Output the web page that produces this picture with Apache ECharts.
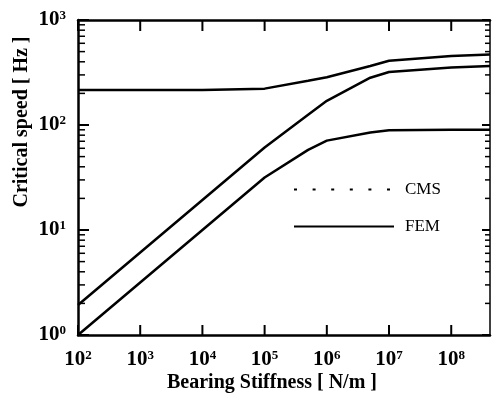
<!DOCTYPE html>
<html>
<head>
<meta charset="utf-8">
<script src="https://cdn.jsdelivr.net/npm/echarts@6.0.0/dist/echarts.min.js"></script>
<style>
  html, body { margin: 0; padding: 0; background: #fff; }
  #chart { width: 494px; height: 396px; }
</style>
</head>
<body>
<div id="chart"></div>
<script>
// bearing stiffness [N/m] where the curves were read
const stiffness = [1e2, 1e3, 1e4, 1e5, 5e5, 1e6, 5e6, 1e7, 1e8, 4.2e8];
// critical speeds [Hz], FEM
const mode1 = [1.0, 3.16, 10, 31.6, 58, 71, 85, 89, 90, 90];
const mode2 = [1.93, 6.1, 19.3, 61, 125, 170, 282, 320, 353, 365];
const mode3 = [215, 215, 215, 222, 264, 285, 365, 409, 454, 469];

const xRange = [1e2, 4.2e8];
const yRange = [1, 1e3];
// tick values: decades on both axes, 2..9 minor ticks on the speed axis
const xMajorTicks = [1e2, 1e3, 1e4, 1e5, 1e6, 1e7, 1e8];
const yMajorTicks = [1, 10, 100, 1000];
const yDecades = [1, 10, 100];
const yMantissas = [2, 3, 4, 5, 6, 7, 8, 9];
const yMinorTicks = yDecades.flatMap((d) => yMantissas.map((m) => m * d));
const legendNames = ["CMS", "FEM"];
const xTitle = "Bearing Stiffness [ N/m ]";
const yTitle = "Critical speed [ Hz ]";

const SERIF = "Liberation Serif";

function pow10Label(val) {
  const e = Math.log10(val);
  const n = Math.round(e);
  if (Math.abs(e - n) > 1e-6) {
    return "";
  }
  return "{b|10}{s|" + n + "}";
}

const labelRich = {
  b: { fontFamily: SERIF, fontWeight: "bold", fontSize: 21, color: "#000" },
  s: { fontFamily: SERIF, fontWeight: "bold", fontSize: 13, color: "#000", verticalAlign: "top", padding: [0, 0, 9, 0] },
};

function logAxis(range, position, extra) {
  return Object.assign({
    type: "log",
    min: range[0],
    max: range[1],
    position: position,
    axisTick: { show: false },
    axisLabel: { show: false },
    splitLine: { show: false },
  }, extra);
}

function fem(data) {
  return {
    name: "FEM",
    type: "line",
    symbol: "none",
    lineStyle: { color: "#000", width: 2.5 },
    data: stiffness.map((k, i) => [k, data[i]]),
  };
}

function title(text, x, y, rotation) {
  return {
    type: "text",
    x: x,
    y: y,
    rotation: rotation,
    style: { text: text, fontFamily: SERIF, fontWeight: "bold", fontSize: 20, fill: "#000", align: "center", verticalAlign: "middle" },
  };
}

// inward ticks on all four sides: kind 0 = x major, 1 = y major, 2 = y minor
const tickData = []
  .concat(xMajorTicks.map((v) => [v, yRange[0], 0]))
  .concat(yMajorTicks.map((v) => [xRange[0], v, 1]))
  .concat(yMinorTicks.map((v) => [xRange[0], v, 2]));

function tickLine(x1, y1, x2, y2, w) {
  return { type: "line", shape: { x1: x1, y1: y1, x2: x2, y2: y2 }, style: { stroke: "#000", lineWidth: w } };
}

function renderTick(params, api) {
  const cs = params.coordSys;
  const p = api.coord([api.value(0), api.value(1)]);
  const kind = api.value(2);
  const bottom = cs.y + cs.height;
  const right = cs.x + cs.width;
  let lines;
  if (kind === 0) {
    lines = [tickLine(p[0], bottom, p[0], bottom - 10, 2), tickLine(p[0], cs.y, p[0], cs.y + 11, 2)];
  } else if (kind === 1) {
    lines = [tickLine(cs.x, p[1], cs.x + 11, p[1], 2), tickLine(right, p[1], right - 8, p[1], 2)];
  } else {
    lines = [tickLine(cs.x, p[1], cs.x + 7, p[1], 1.5), tickLine(right, p[1], right - 5, p[1], 1.5)];
  }
  return { type: "group", children: lines };
}

const chart = echarts.init(document.getElementById("chart"));
chart.setOption({
  backgroundColor: "#fff",
  animation: false,
  grid: { left: 78, right: 4, top: 20, bottom: 61, outerBoundsMode: "none" },
  graphic: [
    title(xTitle, 272, 383, 0),
    title(yTitle, 22, 122, Math.PI / 2),
  ],
  legend: {
    data: legendNames,
    orient: "vertical",
    left: 288,
    top: 176,
    itemWidth: 100,
    itemHeight: 20,
    itemGap: 20,
    itemStyle: { opacity: 0 },
    textStyle: { fontFamily: SERIF, fontSize: 17, color: "#000", padding: [0, 0, 0, 6] },
  },
  xAxis: [
    logAxis(xRange, "bottom", {
      axisLine: { lineStyle: { color: "#000", width: 2.5 } },
      axisLabel: { margin: 14, formatter: pow10Label, rich: labelRich },
    }),
    logAxis(xRange, "top", {
      axisLine: { lineStyle: { color: "#000", width: 2.5 } },
    }),
  ],
  yAxis: [
    logAxis(yRange, "left", {
      axisLine: { lineStyle: { color: "#000", width: 2.5 } },
      axisLabel: { margin: 12, formatter: pow10Label, rich: labelRich },
    }),
    logAxis(yRange, "right", {
      axisLine: { lineStyle: { color: "#000", width: 1.5 } },
    }),
  ],
  series: [
    {
      name: "CMS",
      type: "line",
      symbol: "none",
      lineStyle: { color: "#000", width: 3, type: [3, 15.6] },
      data: [],
    },
    fem(mode1),
    fem(mode2),
    fem(mode3),
    {
      type: "custom",
      silent: true,
      clip: false,
      encode: { x: 0, y: 1 },
      renderItem: renderTick,
      data: tickData,
    },
  ],
});
</script>
</body>
</html>
